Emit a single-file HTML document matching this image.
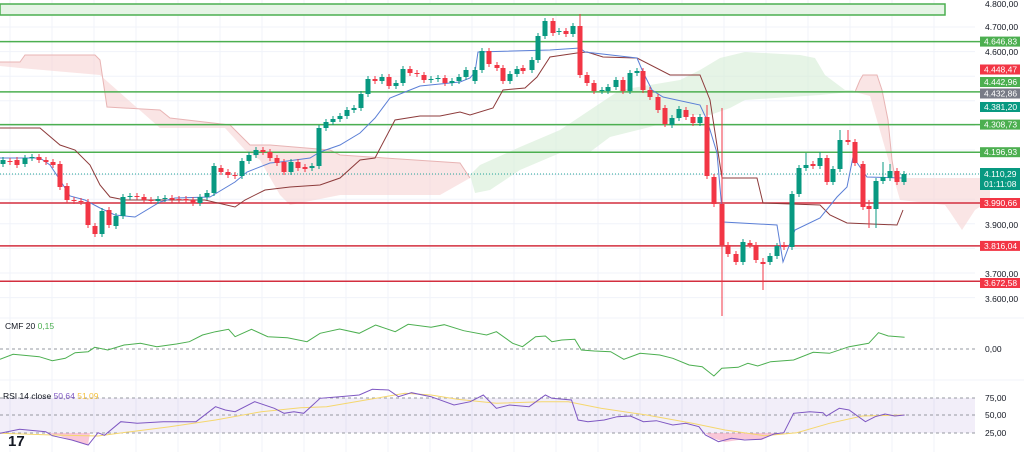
<!DOCTYPE html>
<html><head><meta charset="utf-8"><style>
html,body{margin:0;padding:0;background:#fff;width:1024px;height:452px;overflow:hidden}
svg{display:block;font-family:"Liberation Sans",sans-serif}
</style></head><body>
<svg id="s" width="1024" height="452" viewBox="0 0 1024 452" xmlns="http://www.w3.org/2000/svg">
<g id="grid" stroke="#f0f3fa" stroke-width="1"></g>
<rect x="0" y="4" width="945" height="11" fill="#e6f4e6" stroke="#4caf50" stroke-width="1.5"/>
<polygon fill="#f7d4d4" fill-opacity="0.6" points="0,62 20,62 25,55 95,55 100,60 107,107 160,110 170,118 230,125 250,145 270,145 330,150 340,155 460,163 470,178 440,195 340,195 290,205 280,195 260,160 245,150 225,128 160,128 100,75 20,68 0,66"/>
<polygon fill="#d6ecd6" fill-opacity="0.6" points="470,175 480,165 520,147 560,130 590,110 620,90 680,80 700,70 720,58 745,52 800,55 815,58 825,75 845,90 855,90 850,92 820,95 790,97 745,100 730,108 710,115 690,115 650,127 610,137 590,152 560,153 520,170 490,190 475,193"/>
<polygon fill="#f7d4d4" fill-opacity="0.6" points="855,92 860,80 863,75 877,75 882,90 888,120 892,160 895,178 990,178 990,200 975,210 962,230 950,212 945,205 900,200 870,96"/>
<polyline fill="none" stroke="#e8b4b4" stroke-width="1" points="0,62 20,62 25,55 95,55 100,60 107,107 160,110 170,118 230,125 250,145 270,145 330,150 340,155 460,163 470,178"/>
<polyline fill="none" stroke="#e8b4b4" stroke-width="1" points="855,92 860,80 863,75 877,75 882,90 888,120 892,160 895,178"/>
<g stroke-width="1.5">
<line x1="0" y1="41.6" x2="980" y2="41.6" stroke="#4caf50"/>
<line x1="0" y1="91.9" x2="980" y2="91.9" stroke="#4caf50"/>
<line x1="0" y1="124.6" x2="980" y2="124.6" stroke="#4caf50"/>
<line x1="0" y1="152.2" x2="980" y2="152.2" stroke="#4caf50"/>
<line x1="0" y1="203" x2="980" y2="203" stroke="#d32f3f"/>
<line x1="0" y1="245.9" x2="980" y2="245.9" stroke="#d32f3f"/>
<line x1="0" y1="281.3" x2="980" y2="281.3" stroke="#d32f3f"/>
</g>
<line x1="0" y1="174" x2="980" y2="174" stroke="#26a69a" stroke-dasharray="1,2" stroke-width="1"/>
<polyline fill="none" stroke="#8d3b3b" stroke-width="1" points="0,128 40,128 60,145 75,150 90,165 100,185 110,197 125,200 205,200 235,207 245,200 265,190 290,187 320,185 340,178 360,160 375,158 395,120 420,116 440,116 460,112 470,115 493,108 503,90 525,88 537,77 550,57 577,53 587,52 603,57 637,58 670,75 700,75 710,100 722,178 757,178 763,203 820,205 830,215 847,223 897,225 903,210"/>
<polyline fill="none" stroke="#5b7fd6" stroke-width="1" points="0,158 40,158 50,165 60,180 70,196 85,200 100,208 115,215 135,217 160,202 175,198 210,197 235,182 247,172 270,163 280,162 310,158 320,152 340,145 360,133 375,118 390,98 400,94 420,86 440,84 460,82 470,78 475,72 478,52 550,50 580,48 585,52 637,58 643,72 652,90 663,97 700,105 707,120 717,153 723,222 777,225 783,262 795,230 820,218 837,197 847,187 853,157 867,177 903,178"/>
<g id="candles"></g>
<line x1="0" y1="318" x2="1024" y2="318" stroke="#f0f3fa"/>
<line x1="0" y1="380" x2="1024" y2="380" stroke="#f0f3fa"/>
<line x1="0" y1="349" x2="975" y2="349" stroke="#9598a1" stroke-dasharray="3,3"/>
<polyline id="cmf" fill="none" stroke="#4caf50" stroke-width="1"/>
<rect x="0" y="398" width="975" height="35" fill="#7e57c2" fill-opacity="0.1"/>
<g stroke="#9598a1" stroke-dasharray="3,3"><line x1="0" y1="398" x2="975" y2="398"/><line x1="0" y1="415" x2="975" y2="415"/><line x1="0" y1="433" x2="975" y2="433"/></g>
<polygon fill="#f48fb1" fill-opacity="0.5" points="48,433 60,436 72,440 88,445 90,433"/>
<polygon fill="#f48fb1" fill-opacity="0.5" points="705,433 712,438 725,442 745,439 762,440 775,433"/>
<polyline id="rma" fill="none" stroke="#f5d76e" stroke-width="1"/>
<polyline id="rsi" fill="none" stroke="#7e57c2" stroke-width="1"/>
<g font-size="8.5" fill="#131722">
<text x="5" y="329">CMF 20 <tspan fill="#4caf50">0,15</tspan></text>
<text x="3" y="399">RSI 14 close <tspan fill="#7e57c2">50,64</tspan> <tspan fill="#f5c342">51,09</tspan></text>
<text x="985" y="352">0,00</text>
<text x="985" y="401">75,00</text>
<text x="985" y="418">50,00</text>
<text x="985" y="436">25,00</text>
<text x="985" y="7">4.800,00</text>
<text x="985" y="30">4.700,00</text>
<text x="985" y="55">4.600,00</text>
<text x="985" y="228">3.900,00</text>
<text x="985" y="277">3.700,00</text>
<text x="985" y="302">3.600,00</text>
</g>
<text x="8" y="446" font-size="15" font-weight="bold" fill="#131722">17</text>
<g id="labels" font-size="8.5" fill="#fff"></g>
</svg>
<script>
const NS="http://www.w3.org/2000/svg";
function el(p,t,a,txt){const e=document.createElementNS(NS,t);for(const k in a)e.setAttribute(k,a[k]);if(txt!==undefined)e.textContent=txt;p.appendChild(e);return e;}
const g=document.getElementById('grid');
for(let x=10;x<975;x+=42)el(g,'line',{x1:x,y1:0,x2:x,y2:452});
for(let y=27;y<300;y+=24.6)el(g,'line',{x1:0,y1:y,x2:975,y2:y});
const C=[[3,164,160],[10,161,162],[17,160,165],[25,164,158],[32,158,157],[39,157,160],[46,160,162],[53,162,165],[60,164,187],[67,186,200],[74,200,201],[81,201,202],[88,202,225],[95,226,234],[102,234,211],[109,210,225],[116,226,216],[123,216,197],[130,197,196],[137,196,196.5],[144,197,200],[151,200,201],[158,201,199],[165,199,198],[172,198,199.5],[179,199,200],[186,199,200.5],[193,200,203],[200,203,197],[207,197,193],[214,193,166],[221,168,172],[228,172,175],[235,175,176],[242,176,161],[249,161,155],[256,155,150],[263,150,152],[270,152,158],[277,158,163],[284,162,172],[291,172,162],[298,162,168],[305,167,169],[312,168,166],[319,166,128],[326,128,122],[333,122,119],[340,119,116],[347,116,110],[354,110,108],[361,108,94],[368,94,79],[375,79,81],[382,81,77],[389,77,86],[396,86,83],[403,83,69],[410,69,73],[417,73,74],[424,75,80],[431,80,79],[438,79,78],[445,78,83],[452,83,81],[459,81,77],[466,77,70],[475,81,70],[482,70,51],[489,51,64],[497,65,68],[503,68,81],[510,81,74],[517,74,69],[523,68,71],[532,70,60],[538,60,36],[545,36,21],[553,21,33],[559,32,31],[566,31,34],[573,34,26],[580,26,75,14],[587,75,83],[594,83,91],[602,91,90],[608,91,87],[616,87,80],[623,80,91],[630,91,73],[637,73,71],[643,71,90],[650,90,97],[658,97,110],[665,108,124],[672,125,118],[679,118,109],[686,110,117],[693,117,123],[700,123,117],[707,117,176,105],[714,177,204],[722,204,245,108,316],[728,245,254],[736,254,262],[743,262,242],[750,243,245],[756,245,260],[763,262,264,258,290],[770,262,256],[777,256,246],[784,245,247],[792,247,194],[799,194,168],[806,168,165,153],[813,164,166],[820,166,158,152],[827,158,182],[833,182,169],[840,169,140,130],[848,140,142,130],[855,142,163],[863,164,207],[869,206,209,200,228],[876,209,181,null,228],[883,181,177,162],[890,178,171,164],[897,171,182],[904,182,174]];
const cg=document.getElementById('candles');
C.forEach(c=>{const[x,o,cl,h,l]=c;const up=cl<o;const col=up?'#089981':'#f23645';
const top=Math.min(o,cl),bot=Math.max(o,cl);
el(cg,'line',{x1:x,y1:h||top-3,x2:x,y2:l||bot+3,stroke:col,'stroke-width':1});
el(cg,'rect',{x:x-2.5,y:top,width:5,height:Math.max(1,bot-top),fill:col});});
function pl(id,pts){document.getElementById(id).setAttribute('points',pts.map(p=>(p[0]/1.531).toFixed(1)+','+(290+p[1]/3).toFixed(1)).join(' '));}
pl('cmf',[[0,208],[20,193],[60,200],[80,212],[100,205],[115,188],[135,185],[145,172],[165,180],[190,165],[215,160],[240,170],[270,162],[290,155],[310,135],[330,125],[350,118],[360,140],[385,118],[410,140],[440,143],[470,155],[490,130],[520,117],[550,130],[575,105],[605,125],[625,103],[660,112],[680,104],[710,122],[745,135],[760,125],[785,160],[800,170],[820,140],[835,138],[845,155],[860,150],[880,148],[890,180],[910,183],[935,185],[955,208],[980,190],[1010,195],[1030,205],[1055,225],[1075,230],[1093,258],[1105,235],[1130,232],[1145,220],[1160,228],[1180,215],[1200,212],[1215,210],[1245,187],[1270,190],[1300,170],[1330,160],[1345,128],[1360,138],[1385,142]]);
pl('rsi',[[0,430],[30,418],[70,425],[80,437],[110,450],[135,465],[150,428],[160,436],[185,395],[210,400],[250,395],[300,395],[330,350],[345,360],[360,365],[390,335],[420,355],[435,370],[450,365],[465,370],[490,325],[520,320],[550,315],[570,298],[595,300],[610,320],[630,308],[660,320],[695,345],[720,335],[740,315],[760,355],[780,345],[810,350],[835,315],[845,325],[875,330],[885,390],[900,395],[925,390],[945,380],[965,378],[985,395],[1005,392],[1030,405],[1050,400],[1070,410],[1080,435],[1100,455],[1120,445],[1140,450],[1165,448],[1185,432],[1200,428],[1215,370],[1240,365],[1260,368],[1265,378],[1285,355],[1300,360],[1325,395],[1340,380],[1355,372],[1370,378],[1385,375]]);
pl('rma',[[0,430],[80,435],[150,438],[200,425],[260,410],[330,390],[400,365],[460,353],[500,350],[560,330],[620,310],[660,315],[700,328],[760,340],[830,335],[870,335],[920,355],[990,375],[1060,400],[1110,420],[1170,437],[1220,428],[1270,400],[1320,378],[1385,375]]);
const L=[[41.6,'4.646,83','#4caf50'],[69.5,'4.448,47','#f23645'],[82,'4.442,96','#4caf50'],[93.5,'4.432,86','#787b86'],[107,'4.381,20','#089981'],[124.6,'4.308,73','#4caf50'],[152.2,'4.196,93','#4caf50'],[203,'3.990,66','#f23645'],[245.9,'3.816,04','#f23645'],[283,'3.672,58','#f23645']];
const lg=document.getElementById('labels');
L.forEach(([y,t,c])=>{el(lg,'rect',{x:980,y:y-5,width:40,height:10,fill:c});el(lg,'text',{x:984,y:y+3},t);});
el(lg,'rect',{x:980,y:168,width:40,height:22,fill:'#089981'});
el(lg,'text',{x:984,y:177},'4.110,29');el(lg,'text',{x:984,y:187},'01:11:08');
</script>
</body></html>
